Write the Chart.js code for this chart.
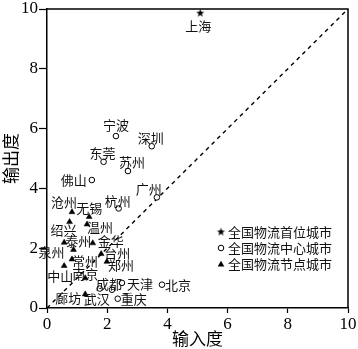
<!DOCTYPE html>
<html><head><meta charset="utf-8">
<script src="https://cdn.jsdelivr.net/npm/chart.js@4/dist/chart.umd.min.js"></script>
<style>html,body{margin:0;padding:0;background:#fff}canvas{display:block}</style>
</head><body>
<canvas id="c" width="358" height="349"></canvas>
<script>
// ---- data ----
const primaryCities = ['上海'];
const primaryIn  = [5.09];
const primaryOut = [9.86];

const centerCities = ['宁波','深圳','东莞','苏州','佛山','广州','杭州','武汉','成都','天津','北京','重庆'];
const centerIn  = [2.29,3.48,1.88,2.69,1.49,3.65,2.38,1.75,2.16,2.49,3.82,2.35];
const centerOut = [5.75,5.41,4.89,4.58,4.28,3.70,3.33,0.65,0.61,0.84,0.78,0.31];

const nodeCities = ['沧州','无锡','绍兴','温州','泰州','金华','泉州','台州','常州','郑州','中山','南京','廊坊'];
const nodeIn  = [0.83,1.40,0.75,1.33,0.57,1.52,0.88,1.80,0.83,1.99,0.57,1.27,1.27];
const nodeOut = [3.21,3.05,2.88,2.80,2.19,2.17,1.95,1.81,1.63,1.55,1.41,1.00,0.46];

const axisTicks = [0,2,4,6,8,10];
const diagonal = [0,10];
const legendNames = ['全国物流首位城市','全国物流中心城市','全国物流节点城市'];
const xTitle = '输入度';
const yTitle = '输出度';

// ---- label placement (pixel offsets of text centre from marker) ----
const labelOffset = {
  '上海':[-2,13],'宁波':[0,-11],'深圳':[-1,-8],'东莞':[-1,-9],'苏州':[4,-9],'佛山':[-18,0],
  '广州':[-8,-8],'杭州':[-1,-7],'沧州':[-8,-10],'无锡':[0,-9],'绍兴':[-6,8],'温州':[13,3],
  '泰州':[14,-1],'金华':[18,-2],'泉州':[-22,2],'台州':[16,-1],'常州':[13,2],'郑州':[14,3],
  '中山':[-4,10],'南京':[0,-4],'廊坊':[-17,4],'武汉':[-3,10],'成都':[-3,-6],'天津':[18,1],
  '北京':[16,0],'重庆':[16,0]
};

const CJK = '"Noto Sans CJK SC", sans-serif';
const SERIF = '"Liberation Serif", serif';

function makeStar(r){
  const s = Math.ceil(r*2+2);
  const c = document.createElement('canvas'); c.width = s; c.height = s;
  const g = c.getContext('2d'); g.fillStyle = '#000'; g.beginPath();
  for (let i=0;i<10;i++){
    const rad = i%2 ? r*0.42 : r;
    const a = -Math.PI/2 + i*Math.PI/5;
    g.lineTo(s/2 + rad*Math.cos(a), s/2 + rad*Math.sin(a));
  }
  g.closePath(); g.fill();
  return c;
}
const starImg = makeStar(4.2);

const toPts = (xs, ys) => xs.map((v,i)=>({x:v, y:ys[i]}));

const labelPlugin = {
  id:'cityLabels',
  afterDatasetsDraw(chart){
    const ctx = chart.ctx;
    ctx.save();
    ctx.font = '13px ' + CJK;
    ctx.fillStyle = '#111';
    ctx.textAlign = 'center';
    ctx.textBaseline = 'middle';
    chart.data.datasets.forEach((ds, di)=>{
      if (!ds.cities) return;
      const meta = chart.getDatasetMeta(di);
      meta.data.forEach((el, i)=>{
        const name = ds.cities[i];
        const off = labelOffset[name] || [0,-10];
        ctx.fillText(name, el.x + off[0], el.y + off[1]);
      });
    });
    ctx.restore();
  },
  afterDraw(chart){
    const ctx = chart.ctx, a = chart.chartArea;
    ctx.save();
    // frame top & right
    ctx.strokeStyle = '#000'; ctx.lineWidth = 1.5;
    ctx.beginPath();
    ctx.moveTo(a.left, a.top); ctx.lineTo(a.right, a.top); ctx.lineTo(a.right, a.bottom);
    ctx.stroke();
    // legend
    const mx = a.right - 127, tx = a.right - 120, y0 = a.top + 223, dy = 16;
    ctx.font = '13px ' + CJK; ctx.fillStyle = '#111';
    ctx.textAlign = 'left'; ctx.textBaseline = 'middle';
    legendNames.forEach((n,i)=>{
      const y = y0 + i*dy;
      if (i===0){
        ctx.drawImage(starImg, mx - starImg.width/2, y - starImg.height/2);
      } else if (i===1){
        ctx.beginPath(); ctx.arc(mx, y, 2.8, 0, Math.PI*2);
        ctx.fillStyle='#fff'; ctx.fill(); ctx.lineWidth=1; ctx.strokeStyle='#000'; ctx.stroke();
        ctx.fillStyle='#111';
      } else {
        ctx.beginPath(); ctx.moveTo(mx, y-3.2); ctx.lineTo(mx+3.3, y+2.5); ctx.lineTo(mx-3.3, y+2.5); ctx.closePath();
        ctx.fillStyle='#000'; ctx.fill(); ctx.fillStyle='#111';
      }
      ctx.fillText(n, tx, y);
    });
    ctx.restore();
  }
};

const zeroPad = s => { s.paddingLeft=0; s.paddingRight=0; s.paddingTop=0; s.paddingBottom=0; };

new Chart(document.getElementById('c'), {
  type:'scatter',
  data:{
    datasets:[
      { label:legendNames[0], cities:primaryCities, data:toPts(primaryIn, primaryOut),
        pointStyle:starImg, order:0 },
      { label:legendNames[1], cities:centerCities, data:toPts(centerIn, centerOut),
        pointStyle:'circle', pointRadius:2.8, pointBackgroundColor:'#fff', pointBorderColor:'#000', pointBorderWidth:1, order:0 },
      { label:legendNames[2], cities:nodeCities, data:toPts(nodeIn, nodeOut),
        pointStyle:'triangle', pointRadius:3.4, pointBackgroundColor:'#000', pointBorderColor:'#000', pointBorderWidth:0.5, order:0 },
      { type:'line', label:'y=x', data:toPts(diagonal, diagonal), borderColor:'#000', borderWidth:1.4,
        borderDash:[4,4], pointRadius:0, fill:false, order:10 }
    ]
  },
  options:{
    responsive:false, animation:false, devicePixelRatio:1,
    layout:{ padding:{ top:9, right:10, left:0, bottom:0 } },
    plugins:{ legend:{display:false}, tooltip:{enabled:false} },
    scales:{
      x:{ type:'linear', min:0, max:10,
        afterBuildTicks: s => { s.ticks = axisTicks.map(v=>({value:v})); },
        afterFit: s => { s.height = 41; zeroPad(s); },
        ticks:{ font:{family:SERIF, size:17}, color:'#000', padding:1, maxRotation:0, autoSkip:false },
        grid:{ drawOnChartArea:false, drawTicks:true, tickLength:5, tickColor:'#000', tickWidth:1.2 },
        border:{ display:true, color:'#000', width:1.5 },
        title:{ display:true, text:xTitle, font:{family:CJK, size:17}, color:'#000', padding:0 }
      },
      y:{ type:'linear', min:0, max:10,
        afterBuildTicks: s => { s.ticks = axisTicks.map(v=>({value:v})); },
        afterFit: s => { s.width = 47; zeroPad(s); },
        ticks:{ font:{family:SERIF, size:17}, color:'#000', padding:1, autoSkip:false },
        grid:{ drawOnChartArea:false, drawTicks:true, tickLength:8, tickColor:'#000', tickWidth:1.2 },
        border:{ display:true, color:'#000', width:1.5 },
        title:{ display:true, text:yTitle, font:{family:CJK, size:17}, color:'#000', padding:0 }
      }
    }
  },
  plugins:[labelPlugin]
});
</script>
</body></html>
